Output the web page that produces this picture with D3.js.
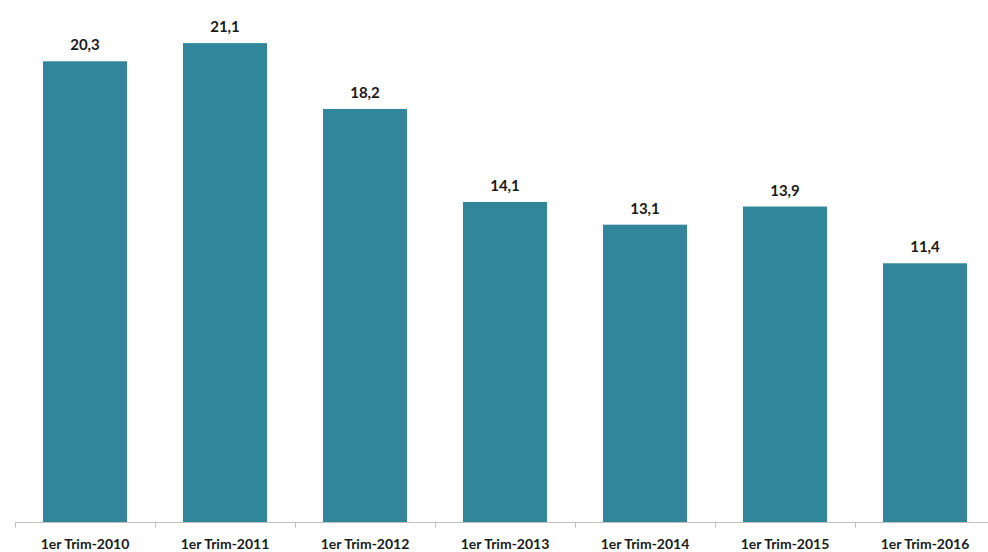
<!DOCTYPE html>
<html><head><meta charset="utf-8">
<script src="https://cdn.jsdelivr.net/npm/d3@7"></script>
<style>body{margin:0;background:#fff}svg{display:block}</style>
</head><body>
<svg id="c" width="988" height="552"></svg>
<script>
const categories = ["1er Trim-2010","1er Trim-2011","1er Trim-2012","1er Trim-2013","1er Trim-2014","1er Trim-2015","1er Trim-2016"];
const values = [20.3, 21.1, 18.2, 14.1, 13.1, 13.9, 11.4];
const labels = ["20,3","21,1","18,2","14,1","13,1","13,9","11,4"];

const svg = d3.select("#c");
const x = d3.scaleBand().domain(categories).range([15, 995]).paddingInner(0.4).paddingOuter(0.2);
const y = d3.scaleLinear().domain([0, 23.0]).range([522, 0]);
const font = "Lato, 'Open Sans', sans-serif";

svg.selectAll("rect.bar").data(values).join("rect")
  .attr("class","bar")
  .attr("x",(d,i)=>x(categories[i]))
  .attr("width",x.bandwidth())
  .attr("y",d=>y(d))
  .attr("height",d=>y(0)-y(d))
  .attr("fill","#31869b");

svg.selectAll("text.val").data(values).join("text")
  .attr("class","val")
  .attr("x",(d,i)=>x(categories[i])+x.bandwidth()/2)
  .attr("y",d=>y(d)-11)
  .attr("text-anchor","middle")
  .style("font-family",font).style("font-weight","bold").style("font-size","15px")
  .attr("fill","#1a1a1a")
  .text((d,i)=>labels[i]);

const g = svg.append("g").attr("transform","translate(0,522.5)");
g.append("line").attr("x1",15).attr("x2",988).attr("stroke","#bfbfbf").attr("stroke-width",1);
const step = x.step();
d3.range(categories.length+1).forEach(i=>{
  const xx = Math.round(15 + i*step)+0.5;
  g.append("line").attr("x1",xx).attr("x2",xx).attr("y1",0).attr("y2",5).attr("stroke","#bfbfbf");
});
svg.selectAll("text.cat").data(categories).join("text")
  .attr("class","cat")
  .attr("x",d=>x(d)+x.bandwidth()/2)
  .attr("y",549)
  .attr("text-anchor","middle")
  .style("font-family",font).style("font-weight","bold").style("font-size","14px")
  .attr("fill","#1a1a1a")
  .text(d=>d);
</script>
</body></html>
